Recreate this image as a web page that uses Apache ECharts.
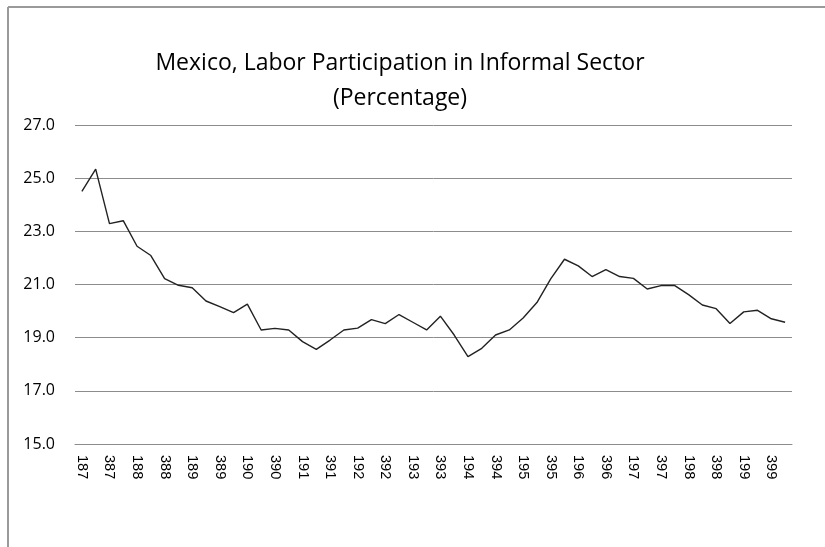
<!DOCTYPE html>
<html>
<head>
<meta charset="utf-8">
<script src="https://cdn.jsdelivr.net/npm/echarts@6/dist/echarts.min.js"></script>
<style>
html,body{margin:0;padding:0;background:#fff;}
#chart{width:825px;height:547px;}
</style>
</head>
<body>
<div id="chart"></div>
<script>
// Quarterly categories Q1 1987 .. Q4 1999 (labels as shown: quarter digit + year digits, truncated)
var years = ['87','88','89','90','91','92','93','94','95','96','97','98','99'];
var categories = [];
years.forEach(function (y) {
  ['1','2','3','4'].forEach(function (q) { categories.push(q + y); });
});
var tickLabelsShown = ['187','387','188','388','189','389','190','390','191','391','192','392','193','393','194','394','195','395','196','396','197','397','198','398','199','399'];

var informalShare = [
  24.50, 25.34, 23.29, 23.40, 22.44, 22.09, 21.22, 20.97,
  20.88, 20.38, 20.17, 19.94, 20.26, 19.29, 19.35, 19.29,
  18.85, 18.56, 18.91, 19.29, 19.36, 19.68, 19.53, 19.87,
  19.58, 19.29, 19.81, 19.10, 18.29, 18.60, 19.10, 19.29,
  19.74, 20.32, 21.21, 21.95, 21.70, 21.30, 21.56, 21.30,
  21.23, 20.83, 20.96, 20.96, 20.62, 20.23, 20.09, 19.53,
  19.97, 20.03, 19.71, 19.58
];

var yMin = 15, yMax = 27, yStep = 2;

var chart = echarts.init(document.getElementById('chart'), null, {renderer: 'canvas'});
chart.setOption({
  backgroundColor: '#ffffff',
  animation: false,
  title: {
    text: 'Mexico, Labor Participation in Informal Sector\n(Percentage)',
    left: 395,
    textAlign: 'center',
    top: 41,
    textStyle: {
      fontFamily: 'Open Sans, sans-serif',
      fontSize: 23,
      fontWeight: 500,
      color: '#000',
      lineHeight: 35
    }
  },
  graphic: [
    {type: 'line', shape: {x1: 8, y1: 7, x2: 825, y2: 7}, style: {stroke: '#9a9a9a', lineWidth: 2}},
    {type: 'line', shape: {x1: 8, y1: 7, x2: 8, y2: 547}, style: {stroke: '#9a9a9a', lineWidth: 2}}
  ],
  grid: {left: 75, right: 33, top: 125, bottom: 103, containLabel: false},
  xAxis: {
    type: 'category',
    data: categories,
    boundaryGap: true,
    axisLine: {show: true, lineStyle: {color: '#8c8c8c', width: 1}},
    axisTick: {show: false},
    axisLabel: {
      interval: 1,
      rotate: -90,
      margin: 11,
      color: '#000',
      fontSize: 14.5,
      fontFamily: 'Liberation Sans, Arial, sans-serif',
      formatter: function (v, i) { return tickLabelsShown[i / 2] !== undefined ? tickLabelsShown[i / 2] : v; }
    },
    splitLine: {show: false}
  },
  yAxis: {
    type: 'value',
    min: yMin,
    max: yMax,
    interval: yStep,
    axisLine: {show: false},
    axisTick: {show: false},
    axisLabel: {
      margin: 20,
      color: '#000',
      fontSize: 16,
      fontFamily: 'Open Sans, sans-serif',
      formatter: function (v) { return v.toFixed(1); }
    },
    splitLine: {show: true, lineStyle: {color: '#8c8c8c', width: 1}}
  },
  series: [{
    type: 'line',
    data: informalShare,
    symbol: 'none',
    lineStyle: {color: '#222222', width: 1.4},
    itemStyle: {color: '#222222'}
  }]
});
</script>
</body>
</html>
